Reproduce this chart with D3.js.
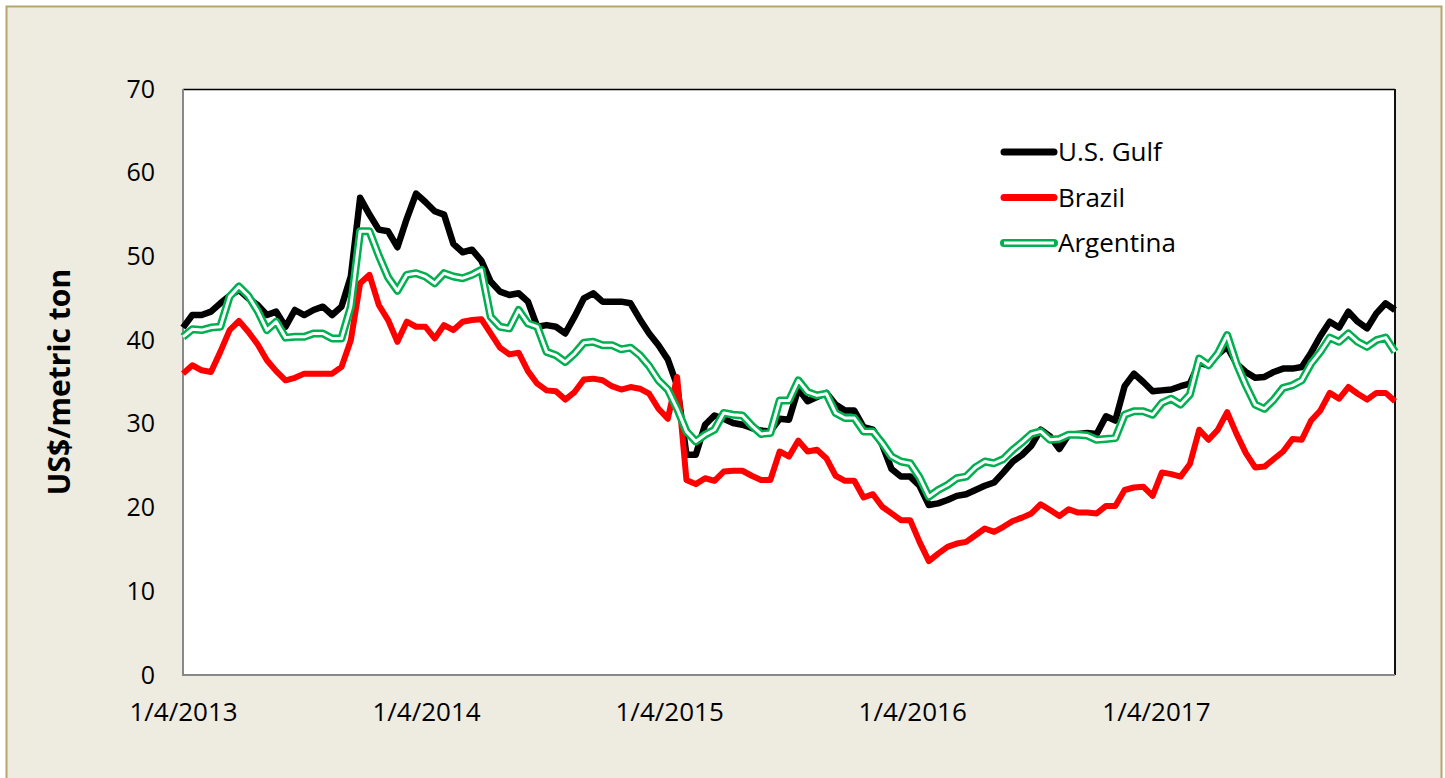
<!DOCTYPE html>
<html>
<head>
<meta charset="utf-8">
<script src="https://cdn.jsdelivr.net/npm/d3@7"></script>
<style>
  body { margin: 0; background: #fff; }
  text { font-family: "Open Sans", sans-serif; fill: #000; }
</style>
</head>
<body>
<div id="chart-area"></div>
<script>
// weekly price series, read every second week starting 1/4/2013
const START = new Date(2013, 0, 4)
const tickDates = ["2013-01-04", "2014-01-04", "2015-01-04", "2016-01-04", "2017-01-04"]
const yTicks = [0, 10, 20, 30, 40, 50, 60, 70]
const seriesNames = ["U.S. Gulf", "Brazil", "Argentina"]

const usGulf = [
  41.5, 43, 43, 43.4, 44.4, 45.3, 46, 45, 44.2, 43, 43.4, 41.6, 43.6, 43, 43.6, 44, 43, 44, 47.6, 57,
  55, 53.2, 53, 51.1, 54.5, 57.5, 56.5, 55.4, 55, 51.5, 50.5, 50.8, 49.5, 47, 45.8, 45.4, 45.6, 44.6, 41.6, 41.8,
  41.6, 40.8, 42.8, 45, 45.6, 44.6, 44.6, 44.6, 44.4, 42.5, 40.8, 39.4, 37.7, 34.6, 26.3, 26.3, 29.9, 31, 30.6, 30.1,
  29.9, 29.5, 29.2, 29.1, 30.6, 30.5, 34.2, 32.7, 33.2, 33.7, 32.3, 31.6, 31.6, 29.6, 29.3, 27.5, 24.6, 23.7, 23.7, 22.6,
  20.3, 20.5, 20.9, 21.4, 21.6, 22.1, 22.6, 23, 24.2, 25.5, 26.3, 27.4, 29.3, 28.5, 27, 28.7, 28.8, 28.9, 28.8, 30.9,
  30.4, 34.5, 36, 35, 33.9, 34, 34.1, 34.5, 34.8, 37.3, 37, 38.3, 39.2, 37.2, 36.2, 35.5, 35.6, 36.2, 36.6, 36.6,
  36.8, 38.5, 40.5, 42.2, 41.5, 43.4, 42.2, 41.4, 43.2, 44.4, 43.6
]
const brazil = [
  36, 37, 36.4, 36.2, 38.6, 41.2, 42.3, 41, 39.5, 37.6, 36.3, 35.2, 35.5, 36, 36, 36, 36, 36.8, 40, 46.8,
  47.8, 44.2, 42.4, 39.8, 42.2, 41.6, 41.6, 40.2, 41.8, 41.2, 42.2, 42.4, 42.5, 40.8, 39.1, 38.3, 38.5, 36.3, 34.8, 34,
  33.9, 32.9, 33.8, 35.3, 35.4, 35.2, 34.5, 34.1, 34.4, 34.2, 33.6, 31.8, 30.6, 35.6, 23.3, 22.8, 23.5, 23.2, 24.3, 24.4,
  24.4, 23.8, 23.3, 23.3, 26.7, 26.1, 28, 26.7, 26.9, 25.9, 23.8, 23.2, 23.2, 21.2, 21.6, 20.1, 19.3, 18.5, 18.5, 15.9,
  13.6, 14.5, 15.3, 15.7, 15.9, 16.7, 17.5, 17.1, 17.7, 18.4, 18.8, 19.3, 20.4, 19.7, 19, 19.8, 19.4, 19.4, 19.3, 20.2,
  20.2, 22.1, 22.4, 22.5, 21.4, 24.2, 24, 23.7, 25.2, 29.3, 28.1, 29.3, 31.4, 28.8, 26.5, 24.8, 24.9, 25.8, 26.7, 28.2,
  28.1, 30.4, 31.6, 33.7, 33, 34.4, 33.6, 32.9, 33.7, 33.7, 32.7
]
const argentina = [
  40.4, 41.3, 41.2, 41.5, 41.6, 45.2, 46.4, 45.3, 43.5, 41.2, 42.2, 40.3, 40.4, 40.4, 40.8, 40.8, 40.2, 40.2, 44, 53,
  53, 50.1, 47.5, 45.9, 47.8, 48, 47.6, 46.8, 48, 47.6, 47.4, 47.8, 48.4, 42.8, 41.6, 41.4, 43.6, 42, 41.6, 38.6,
  38.2, 37.4, 38.4, 39.7, 39.8, 39.4, 39.4, 38.9, 39.1, 38.2, 36.9, 35.2, 34.1, 31.8, 29.1, 27.9, 28.7, 29.3, 31.3, 31.1,
  31, 29.8, 28.8, 28.9, 32.8, 32.8, 35.2, 33.8, 33.4, 33.6, 31.3, 30.7, 30.7, 29.1, 29.1, 27.7, 26.1, 25.5, 25.3, 23.6,
  21.3, 22.1, 22.7, 23.5, 23.7, 24.8, 25.5, 25.3, 25.8, 26.9, 27.8, 28.8, 29.1, 28.1, 28.2, 28.7, 28.7, 28.6, 28.1, 28.2,
  28.3, 31.1, 31.5, 31.5, 31.1, 32.5, 33, 32.3, 33.5, 37.8, 37, 38.4, 40.6, 37.2, 34.6, 32.3, 31.8, 32.9, 34.3, 34.6,
  35.2, 37.2, 38.6, 40.3, 39.8, 40.8, 39.8, 39.2, 40, 40.3, 38.6
]

const dates = usGulf.map((d, i) => d3.timeWeek.offset(START, 2 * i))

const W = 1445, H = 778
const MARGIN = { LEFT: 183, RIGHT: 50, TOP: 89, BOTTOM: 103 }
const WIDTH = W - MARGIN.LEFT - MARGIN.RIGHT
const HEIGHT = H - MARGIN.TOP - MARGIN.BOTTOM

const svg = d3.select("#chart-area").append("svg")
  .attr("width", W)
  .attr("height", H)

// frame
svg.append("rect")
  .attr("x", 6.5).attr("y", 6.5)
  .attr("width", 1435).attr("height", 800)
  .attr("fill", "#EEEBE0")
  .attr("stroke", "#B9A46C")
  .attr("stroke-width", 2)

const g = svg.append("g")
  .attr("transform", `translate(${MARGIN.LEFT}, ${MARGIN.TOP})`)

g.append("rect")
  .attr("width", WIDTH).attr("height", HEIGHT)
  .attr("fill", "#fff")

const xScale = d3.scaleTime()
  .domain([START, dates[dates.length - 1]])
  .range([0, WIDTH])
const yScale = d3.scaleLinear()
  .domain([0, 70])
  .range([HEIGHT, 0])

const parseDay = d3.timeParse("%Y-%m-%d")
const xAxis = g.append("g")
  .attr("transform", `translate(0, ${HEIGHT})`)
  .call(d3.axisBottom(xScale)
    .tickValues(tickDates.map(parseDay))
    .tickSize(0)
    .tickPadding(28)
    .tickFormat(d3.timeFormat("%-m/%-d/%Y")))
xAxis.select(".domain").remove()
xAxis.selectAll("text").attr("font-size", "26px").attr("font-family", "Open Sans")

const yAxis = g.append("g")
  .call(d3.axisLeft(yScale)
    .tickValues(yTicks)
    .tickSize(0)
    .tickPadding(28))
yAxis.select(".domain").remove()
yAxis.selectAll("text").attr("font-size", "25px").attr("font-family", "Open Sans")

// plot area border: black top/right, grey axes left/bottom
g.append("line").attr("x1", 0).attr("x2", WIDTH).attr("y1", 0.5).attr("y2", 0.5)
  .attr("stroke", "#000").attr("stroke-width", 1.5)
g.append("line").attr("x1", WIDTH).attr("x2", WIDTH).attr("y1", 0).attr("y2", HEIGHT)
  .attr("stroke", "#111").attr("stroke-width", 2)
g.append("line").attr("x1", 0).attr("x2", 0).attr("y1", 0).attr("y2", HEIGHT + 1)
  .attr("stroke", "#888").attr("stroke-width", 2)
g.append("line").attr("x1", 0).attr("x2", WIDTH).attr("y1", HEIGHT).attr("y2", HEIGHT)
  .attr("stroke", "#888").attr("stroke-width", 2)

svg.append("text")
  .attr("transform", `translate(70, ${MARGIN.TOP + HEIGHT / 2}) rotate(-90)`)
  .attr("text-anchor", "middle")
  .attr("font-size", "30px")
  .attr("font-weight", "bold")
  .text("US$/metric ton")

const line = d3.line()
  .x((d, i) => xScale(dates[i]))
  .y(d => yScale(d))

const styles = [
  { data: usGulf, color: "#000", width: 6.5 },
  { data: brazil, color: "#FF0000", width: 6 },
  { data: argentina, color: "#00B050", width: 8, inner: 3 }
]

styles.forEach(s => {
  g.append("path").datum(s.data)
    .attr("fill", "none")
    .attr("stroke", s.color)
    .attr("stroke-width", s.width)
    .attr("stroke-linejoin", "round")
    .attr("d", line)
  if (s.inner) {
    g.append("path").datum(s.data)
      .attr("fill", "none")
      .attr("stroke", "#fff")
      .attr("stroke-width", s.inner)
      .attr("stroke-linejoin", "round")
      .attr("d", line)
  }
})

// legend
const legend = svg.append("g").attr("transform", "translate(1002, 152)")
styles.forEach((s, i) => {
  const row = legend.append("g").attr("transform", `translate(0, ${i * 45.5})`)
  row.append("line").attr("x1", 2).attr("x2", 52)
    .attr("stroke", s.color).attr("stroke-width", s.inner ? 8 : 7)
    .attr("stroke-linecap", "round")
  if (s.inner) {
    row.append("line").attr("x1", 2).attr("x2", 52)
      .attr("stroke", "#fff").attr("stroke-width", 3)
  }
  row.append("text")
    .attr("x", 56).attr("y", 9)
    .attr("font-size", "26px")
    .text(seriesNames[i])
})
</script>
</body>
</html>
